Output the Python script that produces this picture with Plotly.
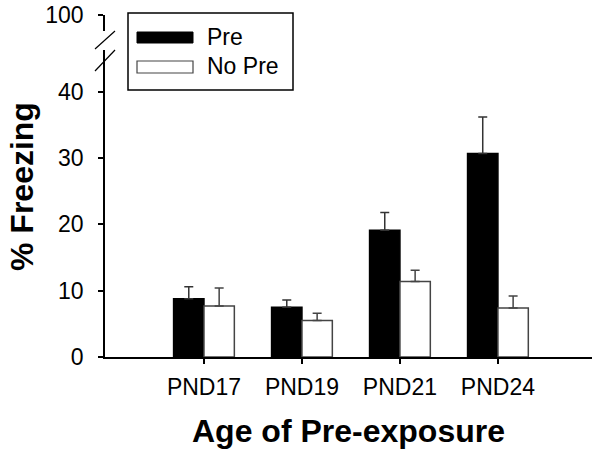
import plotly.graph_objects as go

categories = ["PND17", "PND19", "PND21", "PND24"]
pre_mean = [8.8, 7.5, 19.1, 30.7]
pre_err = [1.8, 1.1, 2.7, 5.5]
nopre_mean = [7.7, 5.5, 11.4, 7.4]
nopre_err = [2.7, 1.1, 1.7, 1.8]
series_names = ["Pre", "No Pre"]
y_ticks_lower = [0, 10, 20, 30, 40]
y_ticks_upper = [100]

W, H = 601, 455
ML, MR, MT, MB = 105, 9, 15, 98
PW = W - ML - MR
PH = H - MT - MB
FONT = "Liberation Sans, Arial, sans-serif"


def px(x):
    return (x - ML) / PW


def py(y):
    return (H - MB - y) / PH


fig = go.Figure()
fig.add_trace(go.Bar(
    x=categories, y=pre_mean, name=series_names[0],
    marker=dict(color="black", line=dict(color="black", width=1.5)),
    error_y=dict(type="data", array=pre_err, arrayminus=[0] * len(pre_err), symmetric=False,
                 color="#333333", thickness=1.5, width=4.5),
    showlegend=False,
))
fig.add_trace(go.Bar(
    x=categories, y=nopre_mean, name=series_names[1],
    marker=dict(color="white", line=dict(color="#444444", width=1.5)),
    error_y=dict(type="data", array=nopre_err, arrayminus=[0] * len(nopre_err), symmetric=False,
                 color="#444444", thickness=1.5, width=4.5),
    showlegend=False,
))
fig.add_trace(go.Scatter(x=[categories[0]], y=[99], yaxis="y2", mode="markers",
                         marker=dict(opacity=0), showlegend=False, hoverinfo="skip"))

lower_top = py(50)
upper_bottom = py(31)

fig.update_layout(
    width=W, height=H,
    margin=dict(l=ML, r=MR, t=MT, b=MB, autoexpand=False),
    paper_bgcolor="white", plot_bgcolor="white",
    barmode="group", bargap=0.38, bargroupgap=0,
    font=dict(family=FONT, size=23, color="black"),
    xaxis=dict(range=[-1.01, 3.96], showline=True, linecolor="black", linewidth=1.5,
               ticks="outside", ticklen=5, tickwidth=1.5, tickcolor="black",
               showgrid=False, zeroline=False, tickfont=dict(size=23),
               ticklabelstandoff=4, automargin=False),
    yaxis=dict(domain=[0, lower_top], range=[0, 46.3], tickvals=y_ticks_lower,
               showline=True, linecolor="black", linewidth=1.5,
               ticks="outside", ticklen=5, tickwidth=1.5, tickcolor="black",
               showgrid=False, zeroline=False, tickfont=dict(size=23),
               ticklabelstandoff=10, automargin=False),
    yaxis2=dict(domain=[upper_bottom, 1], range=[95, 100], tickvals=y_ticks_upper, anchor="x",
                showline=True, linecolor="black", linewidth=1.5,
                ticks="outside", ticklen=5, tickwidth=1.5, tickcolor="black",
                showgrid=False, zeroline=False, tickfont=dict(size=23),
                ticklabelstandoff=10, automargin=False),
)

shapes = []
# axis break slashes
for (x0, y0, x1, y1) in [(95, 49, 115, 31), (95, 71, 115, 50)]:
    shapes.append(dict(type="line", xref="paper", yref="paper",
                       x0=px(x0), y0=py(y0), x1=px(x1), y1=py(y1),
                       line=dict(color="black", width=1.2)))
# legend box
shapes.append(dict(type="rect", xref="paper", yref="paper",
                   x0=px(128), y0=py(90), x1=px(293), y1=py(13),
                   line=dict(color="black", width=1.5), fillcolor="white", layer="above"))
shapes.append(dict(type="rect", xref="paper", yref="paper",
                   x0=px(137), y0=py(43), x1=px(193), y1=py(32),
                   line=dict(color="black", width=1), fillcolor="black", layer="above"))
shapes.append(dict(type="rect", xref="paper", yref="paper",
                   x0=px(137), y0=py(73), x1=px(193), y1=py(61),
                   line=dict(color="#444444", width=1.2), fillcolor="white", layer="above"))
fig.update_layout(shapes=shapes)

annotations = [
    dict(text=series_names[0], xref="paper", yref="paper", x=px(205), y=py(37.5),
         xanchor="left", yanchor="middle", showarrow=False, font=dict(size=23)),
    dict(text=series_names[1], xref="paper", yref="paper", x=px(205), y=py(66.5),
         xanchor="left", yanchor="middle", showarrow=False, font=dict(size=23)),
    dict(text="% Freezing", xref="paper", yref="paper", x=px(22), y=py(187),
         xanchor="center", yanchor="middle", textangle=-90, showarrow=False,
         font=dict(size=32, weight="bold")),
    dict(text="Age of Pre-exposure", xref="paper", yref="paper", x=px(348.5), y=py(431),
         xanchor="center", yanchor="middle", showarrow=False,
         font=dict(size=32, weight="bold")),
]
fig.update_layout(annotations=annotations)

fig.write_html("out.html", config={"displayModeBar": False},
               post_script="document.body.style.margin='0';")
